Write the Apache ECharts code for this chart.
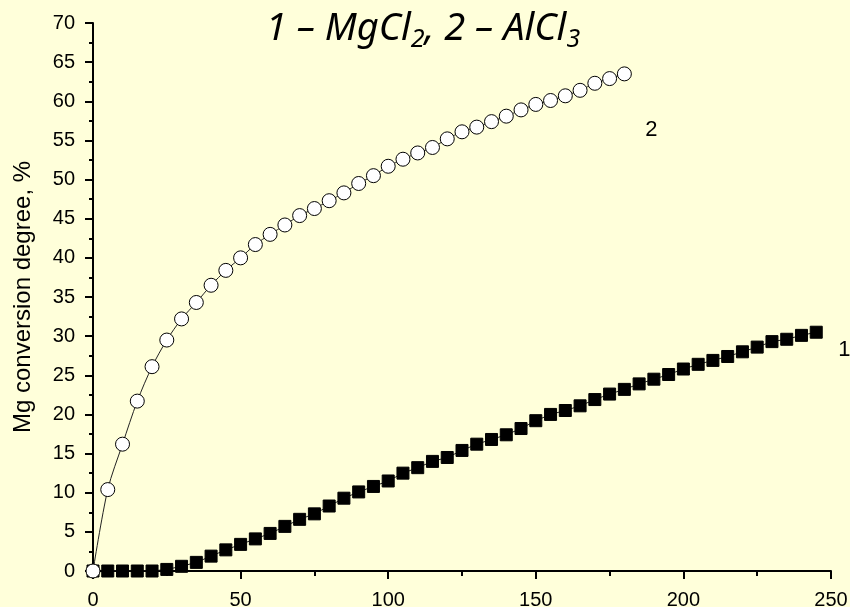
<!DOCTYPE html>
<html>
<head>
<meta charset="utf-8">
<script src="https://cdn.jsdelivr.net/npm/echarts@6/dist/echarts.min.js"></script>
<style>
  html, body { margin: 0; padding: 0; background: #FFFFDA; }
  #main { width: 850px; height: 607px; }
</style>
</head>
<body>
<div id="main"></div>
<script>
// time points
const xMgCl2 = [0, 5, 10, 15, 20, 25, 30, 35, 40, 45, 50, 55, 60, 65, 70, 75, 80, 85, 90, 95,
  100, 105, 110, 115, 120, 125, 130, 135, 140, 145, 150, 155, 160, 165, 170, 175, 180, 185, 190, 195,
  200, 205, 210, 215, 220, 225, 230, 235, 240, 245]
const yMgCl2 = [0, 0, 0, 0, 0, 0.2, 0.6, 1.1, 1.9, 2.7, 3.4, 4.1, 4.8, 5.7, 6.6, 7.3, 8.3, 9.3, 10.1, 10.8,
  11.5, 12.5, 13.2, 14.0, 14.5, 15.4, 16.2, 16.8, 17.4, 18.2, 19.2, 20.0, 20.5, 21.1, 21.9, 22.6, 23.2, 23.9, 24.5, 25.1,
  25.8, 26.4, 26.9, 27.4, 28.0, 28.6, 29.3, 29.6, 30.1, 30.5]

const xAlCl3 = [0, 5, 10, 15, 20, 25, 30, 35, 40, 45, 50, 55, 60, 65, 70, 75, 80, 85, 90, 95,
  100, 105, 110, 115, 120, 125, 130, 135, 140, 145, 150, 155, 160, 165, 170, 175, 180]
const yAlCl3 = [0, 10.4, 16.2, 21.7, 26.1, 29.5, 32.2, 34.3, 36.5, 38.4, 40.0, 41.7, 43.0, 44.2, 45.4, 46.3, 47.3, 48.3, 49.5, 50.5,
  51.7, 52.6, 53.4, 54.1, 55.2, 56.1, 56.7, 57.4, 58.1, 58.9, 59.6, 60.1, 60.7, 61.4, 62.3, 62.9, 63.5]

const chart = echarts.init(document.getElementById("main"))

const axisFont = { color: "#000", fontFamily: "Liberation Sans", fontSize: 20 }

const option = {
  backgroundColor: "#FFFFDA",
  animation: false,
  title: {
    text: "{t|1 – MgCl}{s|2}{t|, 2 – AlCl}{s|3}",
    left: 418,
    textAlign: "center",
    top: 1,
    textStyle: {
      rich: {
        t: { fontFamily: "Noto Sans", fontStyle: "italic", fontWeight: "normal", fontSize: 38, color: "#000", lineHeight: 46 },
        s: { fontFamily: "Noto Sans", fontStyle: "italic", fontWeight: "normal", fontSize: 25, color: "#000", verticalAlign: "bottom", padding: [16, 0, 0, 0], lineHeight: 46 }
      }
    }
  },
  grid: { left: 93, right: 19, top: 23, bottom: 36, outerBoundsMode: "none" },
  xAxis: {
    type: "value",
    min: 0,
    max: 250,
    interval: 50,
    axisLine: { show: true, lineStyle: { color: "#000", width: 2 } },
    axisTick: { show: true, inside: false, length: 8, lineStyle: { color: "#000", width: 2 } },
    minorTick: { show: true, splitNumber: 2, length: 5, lineStyle: { color: "#000", width: 2 } },
    splitLine: { show: false },
    axisLabel: Object.assign({ margin: 19 }, axisFont)
  },
  yAxis: {
    type: "value",
    min: 0,
    max: 70,
    interval: 5,
    name: "Mg conversion degree, %",
    nameLocation: "middle",
    nameGap: 58,
    nameTextStyle: Object.assign({}, axisFont, { fontSize: 24 }),
    axisLine: { show: true, lineStyle: { color: "#000", width: 2 } },
    axisTick: { show: true, inside: false, length: 8, lineStyle: { color: "#000", width: 2 } },
    minorTick: { show: true, splitNumber: 2, length: 4, lineStyle: { color: "#000", width: 2 } },
    splitLine: { show: false },
    axisLabel: Object.assign({ margin: 18 }, axisFont)
  },
  series: [
    {
      name: "1",
      type: "line",
      data: xMgCl2.map((x, i) => [x, yMgCl2[i]]),
      symbol: "rect",
      symbolSize: 12,
      lineStyle: { color: "#222", width: 1 },
      itemStyle: { color: "#000", borderColor: "#000", borderWidth: 1 },
      endLabel: { show: true, formatter: "1", offset: [14, 18], color: "#000", fontFamily: "Liberation Sans", fontSize: 22 }
    },
    {
      name: "2",
      type: "line",
      data: xAlCl3.map((x, i) => [x, yAlCl3[i]]),
      symbol: "circle",
      symbolSize: 14,
      smooth: 0.3,
      lineStyle: { color: "#222", width: 1 },
      itemStyle: { color: "#fff", borderColor: "#000", borderWidth: 1 },
      endLabel: { show: true, formatter: "2", offset: [13, 56], color: "#000", fontFamily: "Liberation Sans", fontSize: 22 }
    }
  ]
}

chart.setOption(option)
</script>
</body>
</html>
